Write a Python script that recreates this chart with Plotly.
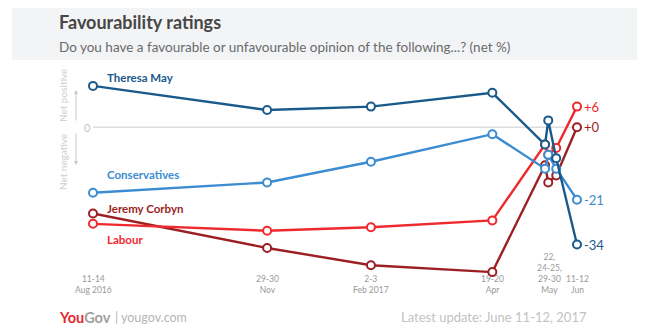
import plotly.graph_objects as go

# Fieldwork mid-points of each YouGov poll
poll_dates = [
    "2016-08-12 12:00", "2016-11-29 12:00", "2017-02-02 12:00", "2017-04-19 12:00",
    "2017-05-22 12:00", "2017-05-24 12:00", "2017-05-29 12:00", "2017-06-11 12:00",
]

# Net favourability (%)
theresa_may = [12, 5, 6, 10, -5, 2, -9, -34]
conservatives = [-19, -16, -10, -2, -12, -8, -12, -21]
jeremy_corbyn = [-25, -35, -40, -42, -11, -16, -14, 0]
labour = [-28, -30, -29, -27, -5, -8, -6, 6]

# Date labels under the chart
date_label_x = ["2016-08-12 12:00", "2016-11-29 12:00", "2017-02-02 12:00",
                "2017-04-19 12:00", "2017-05-25 12:00", "2017-06-11 12:00"]
date_label_text = ["11-14<br>Aug 2016", "29-30<br>Nov", "2-3<br>Feb 2017",
                   "19-20<br>Apr", "22,<br>24-25,<br>29-30<br>May", "11-12<br>Jun"]

series = [
    ("Jeremy Corbyn", jeremy_corbyn, "#9c1f24"),
    ("Labour", labour, "#ee2a2f"),
    ("Conservatives", conservatives, "#3b8cd0"),
    ("Theresa May", theresa_may, "#1a5a8b"),
]

W, H = 650, 336
L, R, T, B = 93, 73, 79, 57
PW, PH = W - L - R, H - T - B


def px_x(x):
    return (x - L) / PW


def px_y(y):
    return 1 - (y - T) / PH


FONT = "Lato"

fig = go.Figure()

for name, vals, color in series:
    fig.add_trace(go.Scatter(
        x=poll_dates, y=vals, mode="lines+markers", name=name,
        line=dict(color=color, width=2.4),
        marker=dict(symbol="circle", size=8, color="white",
                    line=dict(color=color, width=2)),
        cliponaxis=False, hoverinfo="skip",
    ))

annotations = []

# Series names on the left
name_pos = {"Theresa May": 77, "Conservatives": 174, "Jeremy Corbyn": 208, "Labour": 239}
for name, vals, color in series:
    annotations.append(dict(
        text=f"<b>{name}</b>", x=px_x(105), y=px_y(name_pos[name]),
        xref="paper", yref="paper", xanchor="left", yanchor="middle",
        showarrow=False, font=dict(family=FONT, size=11.5, color=color),
    ))
    # latest value at the right end
    last = vals[-1]
    annotations.append(dict(
        text=f"{'+' if last >= 0 else '-'}{abs(last)}", x=poll_dates[-1], y=last,
        xref="x", yref="y", xanchor="left", yanchor="middle", xshift=5,
        showarrow=False, font=dict(family=FONT, size=13, color=color),
    ))

# Date labels (bottom aligned)
for xd, txt in zip(date_label_x, date_label_text):
    annotations.append(dict(
        text=txt, x=xd, y=px_y(297), xref="x", yref="paper",
        xanchor="center", yanchor="bottom", showarrow=False, align="center",
        font=dict(family=FONT, size=8.5, color="#999999"),
    ))

# Zero label and net positive / negative guide
annotations += [
    dict(text="0", x=px_x(87), y=0, xref="paper", yref="y", showarrow=False,
         xanchor="center", yanchor="middle", font=dict(family=FONT, size=11, color="#c4c4c4")),
    dict(text="Net positive", x=px_x(63), y=px_y(96), xref="paper", yref="paper",
         xanchor="center", yanchor="middle",
         textangle=-90, showarrow=False, font=dict(family=FONT, size=10, color="#cfcfcf")),
    dict(text="Net negative", x=px_x(63), y=px_y(162), xref="paper", yref="paper",
         xanchor="center", yanchor="middle",
         textangle=-90, showarrow=False, font=dict(family=FONT, size=10, color="#cfcfcf")),
    dict(text="", x=px_x(76), y=px_y(90), xref="paper", yref="paper", showarrow=True,
         ax=0, ay=32, arrowhead=2, arrowsize=0.8, arrowwidth=1, arrowcolor="#c8c8c8"),
    dict(text="", x=px_x(76), y=px_y(165), xref="paper", yref="paper", showarrow=True,
         ax=0, ay=-33, arrowhead=2, arrowsize=0.8, arrowwidth=1, arrowcolor="#c8c8c8"),
]

# Title block
annotations += [
    dict(text="<b>Favourability ratings</b>", x=px_x(57), y=px_y(22), xref="paper", yref="paper",
         xanchor="left", yanchor="middle", showarrow=False,
         font=dict(family=FONT, size=18, color="#474747")),
    dict(text="Do you have a favourable or unfavourable opinion of the following...? (net %)",
         x=px_x(57), y=px_y(47), xref="paper", yref="paper",
         xanchor="left", yanchor="middle", showarrow=False,
         font=dict(family=FONT, size=13.5, color="#6a6a6a")),
]

# Footer
annotations += [
    dict(text="<b><span style='color:#e52a2f'>You</span><span style='color:#a0a0a0'>Gov</span></b>",
         x=px_x(57), y=px_y(317), xref="paper", yref="paper", xanchor="left", yanchor="middle",
         showarrow=False, font=dict(family=FONT, size=14.5)),
    dict(text="| yougov.com", x=px_x(113), y=px_y(317), xref="paper", yref="paper",
         xanchor="left", yanchor="middle", showarrow=False,
         font=dict(family=FONT, size=12.5, color="#b5b5b5")),
    dict(text="Latest update: June 11-12, 2017", x=px_x(589), y=px_y(317), xref="paper", yref="paper",
         xanchor="right", yanchor="middle", showarrow=False,
         font=dict(family=FONT, size=13, color="#c2c2c2")),
]

shapes = [
    # light header band
    dict(type="rect", xref="paper", yref="paper", x0=px_x(12), x1=px_x(637),
         y0=px_y(60), y1=px_y(8), fillcolor="#f3f4f6", line=dict(width=0), layer="below"),
    # zero reference line
    dict(type="line", xref="x", yref="y", x0=poll_dates[0], x1=poll_dates[-1], y0=0, y1=0,
         line=dict(color="#dddddd", width=1.5), layer="below"),
]

fig.update_layout(
    width=W, height=H,
    margin=dict(l=L, r=R, t=T, b=B),
    paper_bgcolor="white", plot_bgcolor="white",
    showlegend=False,
    xaxis=dict(type="date", range=[poll_dates[0], poll_dates[-1]], visible=False),
    yaxis=dict(range=[-44, 14], visible=False),
    annotations=annotations,
    shapes=shapes,
    hovermode=False,
)

fig.write_html("out.html", config={"displayModeBar": False})
